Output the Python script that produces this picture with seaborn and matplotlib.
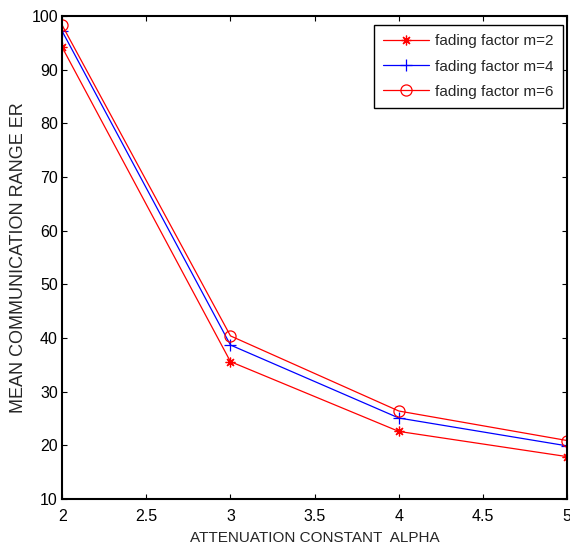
import matplotlib
matplotlib.use("Agg")
import matplotlib.pyplot as plt
import seaborn as sns
import pandas as pd

alpha = [2, 3, 4, 5]
er_m2 = [94.2, 35.6, 22.6, 17.9]
er_m4 = [97.2, 38.7, 25.1, 19.9]
er_m6 = [98.3, 40.4, 26.4, 20.9]
labels = ["fading factor m=2", "fading factor m=4", "fading factor m=6"]

sns.set_style("white")
plt.rcParams['font.family'] = ['Liberation Sans', 'DejaVu Sans']

fig = plt.figure(figsize=(5.7, 5.5), dpi=100)
ax = fig.add_axes([0.109, 0.0927, 0.886, 0.878])

styles = [
    dict(color="#ff0000", marker=(8, 2, 0), markersize=7, markeredgecolor="#ff0000",
         markerfacecolor="#ff0000", markeredgewidth=0.9),
    dict(color="#0000ff", marker="+", markersize=9, markeredgecolor="#0000ff",
         markeredgewidth=0.9),
    dict(color="#ff0000", marker="o", markersize=8, markerfacecolor="none",
         markeredgecolor="#ff0000", markeredgewidth=0.9),
]
for vals, lab, st in zip([er_m2, er_m4, er_m6], labels, styles):
    df = pd.DataFrame({"alpha": alpha, "er": vals})
    sns.lineplot(data=df, x="alpha", y="er", ax=ax, label=lab, linewidth=0.9, **st)

ax.set_xlim(2, 5)
ax.set_ylim(10, 100)
ax.set_xticks([2, 2.5, 3, 3.5, 4, 4.5, 5])
ax.set_xticklabels(["2", "2.5", "3", "3.5", "4", "4.5", "5"])
ax.set_yticks(range(10, 101, 10))
ax.tick_params(axis="both", direction="in", length=3.5, width=0.8, labelsize=11.5,
               top=True, right=True, bottom=True, left=True, colors="black")
ax.tick_params(axis="x", pad=7.5)
ax.tick_params(axis="y", pad=3)
for s in ax.spines.values():
    s.set_color("black")
    s.set_linewidth(1.5)
ax.set_xlabel("ATTENUATION CONSTANT  ALPHA", fontsize=11, labelpad=5)
ax.set_ylabel("MEAN COMMUNICATION RANGE ER", fontsize=13, labelpad=3)
leg = ax.legend(loc="upper right", bbox_to_anchor=(0.992, 0.981), borderaxespad=0,
                fontsize=11, frameon=True, fancybox=False, edgecolor="black",
                framealpha=1, handlelength=3.0, handletextpad=0.4,
                labelspacing=0.73, borderpad=0.6)
leg.get_frame().set_linewidth(1.0)

fig.savefig("out.png", dpi=100)
